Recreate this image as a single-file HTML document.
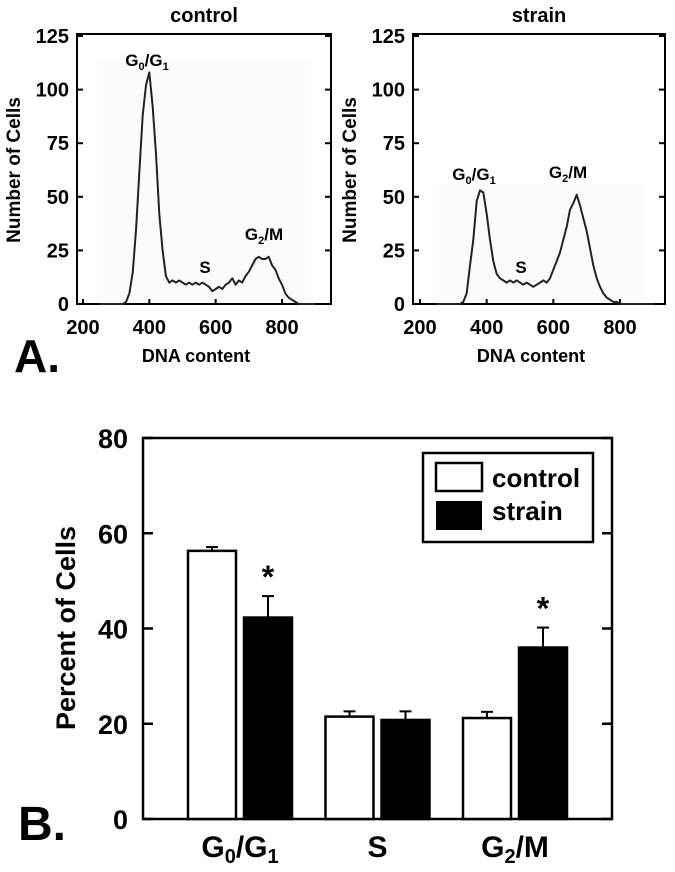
<!DOCTYPE html>
<html><head><meta charset="utf-8"><style>
html,body{margin:0;padding:0;background:#fff}
svg{display:block}
text{font-family:"Liberation Sans",Arial,sans-serif;font-weight:bold;fill:#000}
</style></head><body>
<svg id="fig" width="675" height="872" viewBox="0 0 675 872" xmlns="http://www.w3.org/2000/svg">
<g id="panelA"></g>
<g id="panelB"></g>
</svg>
<script>
// ---- Panel A data ----
const dnaBins = [250,260,270,280,290,300,310,320,330,340,350,360,370,380,390,400,410,420,430,440,450,460,470,480,490,500,510,520,530,540,550,560,570,580,590,600,610,620,630,640,650,660,670,680,690,700,710,720,730,740,750,760,770,780,790,800,810,820,830,840,850,860,870,880,890,900];
const controlCounts = [0,0,0,0,0,0,0,0,1,5,15,35,62,88,102,108,92,70,42,25,13,10,11,10,11,10,9,10,9,10,9,10,9,8,6,7,8,7,9,10,12,9,11,10,13,15,18,21,22,21,21,22,18,16,12,9,5,3,2,1,0,0,0,0,0,0];
const strainCounts = [0,0,0,0,0,0,0,0,1,5,18,30,48,53,52,42,30,20,14,12,11,10,11,10,11,10,9,10,9,8,9,10,11,10,12,16,20,24,30,36,44,47,51,46,40,34,26,18,12,8,5,3,2,1,1,0,0,0,0,0,0,0,0,0,0,0];
const histYTicks = [0,25,50,75,100,125];
const histXTicks = [200,400,600,800];
// ---- Panel B data ----
const phases = ["G0/G1","S","G2/M"];
const controlPct = [56.3,21.5,21.2];
const controlErr = [0.8,1.1,1.3];
const strainPct = [42.3,20.8,36.0];
const strainErr = [4.5,1.8,4.2];
const significant = [true,false,true];
const barYTicks = [0,20,40,60,80];

const NS="http://www.w3.org/2000/svg";
function mk(tag, attrs, parent, txt){
  const e=document.createElementNS(NS,tag);
  for(const k in attrs) e.setAttribute(k,attrs[k]);
  if(txt!==undefined) e.textContent=txt;
  parent.appendChild(e); return e;
}
const A=document.getElementById('panelA');
const B=document.getElementById('panelB');

function histogram(cfg){
  const g=mk('g',{},A);
  
  
  const xs=v=>cfg.x200+(v-200)*(cfg.x800-cfg.x200)/600;
  const ys=v=>cfg.bottom-(v)*(cfg.bottom-cfg.top125)/125;
  mk('rect',{x:cfg.left+20,y:cfg.bgTop,width:cfg.right-cfg.left-40,height:cfg.bottom-cfg.bgTop-2,fill:'#fbfbfb'},g);
  const fr=mk('rect',{x:cfg.left,y:cfg.top,width:cfg.right-cfg.left,height:cfg.bottom-cfg.top,fill:'none',stroke:'#000','stroke-width':2},g);
  
  
  histYTicks.forEach(t=>{
    const y=ys(t);
    mk('line',{x1:cfg.left,x2:cfg.left+6,y1:y,y2:y,stroke:'#000','stroke-width':2},g);
    mk('line',{x1:cfg.right,x2:cfg.right-6,y1:y,y2:y,stroke:'#000','stroke-width':2},g);
    const tl=mk('text',{x:cfg.left-8,y:y+7,'text-anchor':'end','font-size':20},g,String(t));
    
    
  });
  histXTicks.forEach(t=>{
    const x=xs(t);
    mk('line',{x1:x,x2:x,y1:cfg.bottom,y2:cfg.bottom-5,stroke:'#000','stroke-width':2},g);
    const tl=mk('text',{x:x,y:cfg.bottom+30,'text-anchor':'middle','font-size':20},g,String(t));
    
    
  });
  const pts=cfg.counts.map((c,i)=>xs(dnaBins[i]).toFixed(1)+','+ys(c).toFixed(1)).join(' ');
  const pl=mk('polyline',{points:pts,fill:'none',stroke:'#222','stroke-width':2,'stroke-linejoin':'round'},g);
  
  
  const t=mk('text',{x:(cfg.left+cfg.right)/2,y:22,'text-anchor':'middle','font-size':20},g,cfg.title);
  
  
  const xt=mk('text',{x:(cfg.left+cfg.right)/2-8,y:362,'text-anchor':'middle','font-size':18},g,'DNA content');
  
  
  const yt=mk('text',{x:0,y:0,'text-anchor':'middle','font-size':19,transform:`translate(${cfg.ytx},170) rotate(-90)`},g,'Number of Cells');
  
  
  cfg.labels.forEach(L=>{
    const tx=mk('text',{x:L[0],y:L[1],'text-anchor':'middle','font-size':17},g);
    
    
    L[2].forEach(p=>{
      const s=mk('tspan',{},tx,p[0]);
      if(p[1]) {s.setAttribute('font-size','11');s.setAttribute('dy','4');}
      else if(p[2]) {s.setAttribute('dy','-4');}
    });
  });
}
histogram({name:'control',title:'control',left:77,right:331,top:34,bottom:304,top125:36,bgTop:62,x200:83,x800:282,counts:controlCounts,ytx:20,
  labels:[[147,66,[['G'],['0',1],['/G',0,1],['1',1]]],[205,273,[['S']]],[264,240,[['G'],['2',1],['/M',0,1]]]]});
histogram({name:'strain',title:'strain',left:413,right:665,top:34,bottom:304,top125:36,bgTop:184,x200:420,x800:620,counts:strainCounts,ytx:356,
  labels:[[474,180,[['G'],['0',1],['/G',0,1],['1',1]]],[521,273,[['S']]],[568,178,[['G'],['2',1],['/M',0,1]]]]});
const aL=mk('text',{x:14,y:372,'font-size':46},A,'A.');



// ---- Panel B ----
const bx0=143,bx1=612,by0=819,by1=438;
const yB=v=>by0-v*(by0-by1)/80;
const groupCenter=i=>240+i*137.5;
const bw=48, gap=8;
const fr=mk('rect',{x:bx0,y:by1,width:bx1-bx0,height:by0-by1,fill:'none',stroke:'#000','stroke-width':2.5},B);


barYTicks.forEach(t=>{
  const y=yB(t);
  mk('line',{x1:bx0,x2:bx0+10,y1:y,y2:y,stroke:'#000','stroke-width':2.5},B);
  mk('line',{x1:bx1,x2:bx1-10,y1:y,y2:y,stroke:'#000','stroke-width':2.5},B);
  const tl=mk('text',{x:128,y:y+10,'text-anchor':'end','font-size':27},B,String(t));
  
  
});
phases.forEach((p,i)=>{
  const c=groupCenter(i);
  const xc=c-gap/2-bw, xs=c+gap/2;
  [[xc,controlPct[i],controlErr[i]],[xs,strainPct[i],strainErr[i]]].forEach(d=>{
    const mx=d[0]+bw/2;
    mk('line',{x1:mx,x2:mx,y1:yB(d[1]),y2:yB(d[1]+d[2]),stroke:'#000','stroke-width':2},B);
    mk('line',{x1:mx-6,x2:mx+6,y1:yB(d[1]+d[2]),y2:yB(d[1]+d[2]),stroke:'#000','stroke-width':2},B);
  });
  const r1=mk('rect',{x:xc,y:yB(controlPct[i]),width:bw,height:by0-yB(controlPct[i]),fill:'#fff',stroke:'#000','stroke-width':2.5},B);
  
  
  const r2=mk('rect',{x:xs,y:yB(strainPct[i]),width:bw,height:by0-yB(strainPct[i]),fill:'#000',stroke:'#000','stroke-width':2.5},B);
  
  
  if(significant[i]){
    const s=mk('text',{x:xs+bw/2,y:yB(strainPct[i]+strainErr[i])-8,'text-anchor':'middle','font-size':32},B,'*');
    
    
  }
  const lab=mk('text',{x:c,y:857,'text-anchor':'middle','font-size':30},B);
  
  
  const m=p.match(/^G(\d)\/G(\d)$/), m2=p.match(/^G(\d)\/(\w+)$/);
  if(m){
    mk('tspan',{},lab,'G');mk('tspan',{'font-size':20,dy:6},lab,m[1]);
    mk('tspan',{dy:-6},lab,'/G');mk('tspan',{'font-size':20,dy:6},lab,m[2]);
  } else if(m2){
    mk('tspan',{},lab,'G');mk('tspan',{'font-size':20,dy:6},lab,m2[1]);
    mk('tspan',{dy:-6},lab,'/'+m2[2]);
  } else lab.textContent=p;
});
const lg=mk('g',{},B);


mk('rect',{x:423,y:453,width:170,height:89,fill:'#fff',stroke:'#000','stroke-width':2.5},lg);
const s1=mk('rect',{x:436,y:463,width:46,height:28,fill:'#fff',stroke:'#000','stroke-width':2.5},lg);


const s2=mk('rect',{x:436,y:501,width:46,height:29,fill:'#000'},lg);


const l1=mk('text',{x:492,y:487,'font-size':26},lg,'control');


const l2=mk('text',{x:492,y:520,'font-size':26},lg,'strain');


const yt=mk('text',{x:0,y:0,'text-anchor':'middle','font-size':27,transform:'translate(75,628) rotate(-90)'},B,'Percent of Cells');


const bL=mk('text',{x:18,y:840,'font-size':48},B,'B.');


</script>
</body></html>
